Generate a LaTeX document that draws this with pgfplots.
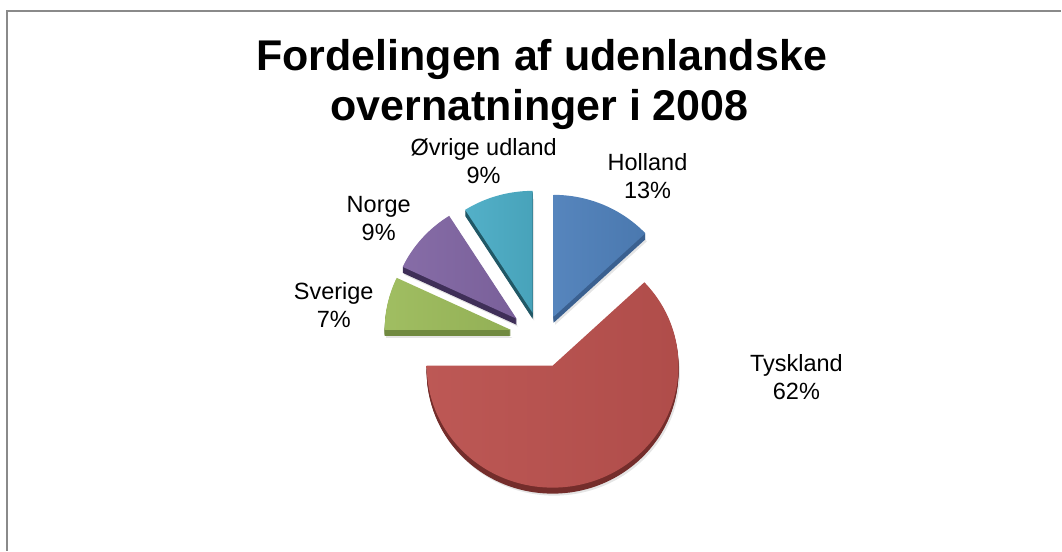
\documentclass[border=0pt]{standalone}
\usepackage{fontspec}
\setmainfont{Liberation Sans}
\usepackage{pgfplots}
\usepackage{pgfplotstable}
\pgfplotsset{compat=1.18}

% slice data: share (%), slice vertex (px), label position (px, baseline of first line)
\pgfplotstableread[col sep=comma]{
name,pct,vx,vy,lx,ly
Holland,13,554,317,648,171
Tyskland,62,553,366,797,372
Sverige,7,511,330,334,300
Norge,9,517,319,379,213
Øvrige udland,9,533,313,484,156
}\piedata

\definecolor{top0}{HTML}{4F80BA}
\definecolor{top1}{HTML}{BA514E}
\definecolor{top2}{HTML}{9CBB5B}
\definecolor{top3}{HTML}{8166A3}
\definecolor{top4}{HTML}{4CADC6}
\definecolor{rim0}{HTML}{3A6090}
\definecolor{rim1}{HTML}{742D2B}
\definecolor{rim2}{HTML}{718A40}
\definecolor{rim3}{HTML}{3F2F58}
\definecolor{rim4}{HTML}{215866}
\definecolor{framegray}{HTML}{8A8A8A}

\begin{document}
\begin{tikzpicture}
\begin{axis}[
  width=1062pt, height=551pt, scale only axis,
  xmin=0, xmax=1062, ymin=0, ymax=551, y dir=reverse,
  hide axis, clip=false,
]
\pgfplotsextra{
  \path (axis cs:0,0) rectangle (axis cs:1062,551);
  \draw[framegray, line width=1.6pt] (axis cs:7,551) -- (axis cs:7,11) -- (axis cs:1062,11);
  \node[anchor=base, font=\fontsize{43}{50}\selectfont\bfseries] at (axis cs:542,71) {Fordelingen af udenlandske};
  \node[anchor=base, font=\fontsize{43}{50}\selectfont\bfseries] at (axis cs:540,121) {overnatninger i 2008};
  \xdef\cum{0}
  \foreach \i in {0,...,4}{
    \pgfplotstablegetelem{\i}{pct}\of\piedata \let\p\pgfplotsretval
    \pgfplotstablegetelem{\i}{vx}\of\piedata \let\vx\pgfplotsretval
    \pgfplotstablegetelem{\i}{vy}\of\piedata \let\vy\pgfplotsretval
    \pgfplotstablegetelem{\i}{lx}\of\piedata \let\lx\pgfplotsretval
    \pgfplotstablegetelem{\i}{ly}\of\piedata \let\ly\pgfplotsretval
    \pgfplotstablegetelem{\i}{name}\of\piedata \let\nm\pgfplotsretval
    \pgfmathsetmacro\sa{90-\cum*3.6}
    \pgfmathsetmacro\ea{90-(\cum+\p)*3.6}
    \pgfmathsetmacro\newcum{\cum+\p}
    \xdef\cum{\newcum}
    % shadow
    \fill[black!10] ([xshift=1.5pt,yshift=-8pt]axis cs:\vx,\vy) -- ++(\sa:126pt and 122pt)
        arc[start angle=\sa, end angle=\ea, x radius=126pt, y radius=122pt] -- cycle;
    % side (thickness)
    \foreach \d in {1,...,6}{
      \fill[rim\i] ([yshift=-\d pt]axis cs:\vx,\vy) -- ++(\sa:126pt and 122pt)
        arc[start angle=\sa, end angle=\ea, x radius=126pt, y radius=122pt] -- cycle;
    }
    % top face
    \shade[left color=top\i!96!white, right color=top\i!94!black]
      (axis cs:\vx,\vy) -- ++(\sa:126pt and 122pt)
      arc[start angle=\sa, end angle=\ea, x radius=126pt, y radius=122pt] -- cycle;
    % labels
    \node[anchor=base, font=\fontsize{23.5}{27}\selectfont] at (axis cs:\lx,\ly) {\nm};
    \pgfmathsetmacro\lyy{\ly+28}
    \node[anchor=base, font=\fontsize{23.5}{27}\selectfont] at (axis cs:\lx,\lyy) {\p\%};
  }
}
\end{axis}
\end{tikzpicture}
\end{document}
